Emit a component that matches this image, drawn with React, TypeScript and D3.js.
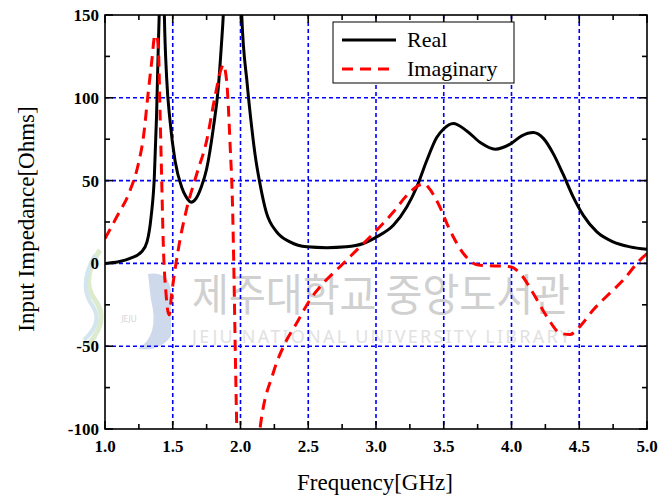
import React from "react";
import * as d3 from "d3";

const realFreq = [1.0, 1.1, 1.185, 1.27, 1.31, 1.34, 1.364, 1.38, 1.394, 1.4, 1.419, 1.438, 1.455, 1.48, 1.517, 1.566, 1.6, 1.635, 1.67, 1.71, 1.75, 1.8, 1.836, 1.86, 1.873, 1.94, 2.009, 2.05, 2.083, 2.107, 2.144, 2.19, 2.267, 2.365, 2.49, 2.636, 2.78, 2.906, 3.005, 3.128, 3.227, 3.3, 3.374, 3.448, 3.497, 3.57, 3.67, 3.77, 3.88, 3.99, 4.075, 4.16, 4.235, 4.31, 4.38, 4.456, 4.53, 4.63, 4.75, 4.875, 5.0];
const realVals = [0, 1, 3, 7, 13, 28, 52, 88, 133, 150, 260, 150, 112, 86, 62, 46, 40, 37, 39, 46, 57, 82, 106, 133, 150, 400, 150, 108, 82, 66, 48, 31, 19, 13, 10, 9.5, 10, 12, 16, 23, 34, 46, 62, 76, 81, 84.5, 80, 73, 69, 72, 77, 79, 75.5, 66, 54, 40, 29, 19, 13, 10, 8.5];

const imagFreqA = [1.0, 1.086, 1.185, 1.246, 1.283, 1.32, 1.345, 1.369, 1.385, 1.394, 1.406, 1.418, 1.43, 1.45, 1.467, 1.475, 1.49, 1.54, 1.6, 1.677, 1.75, 1.81, 1.86, 1.872, 1.898, 1.923, 1.942, 1.952, 1.96, 1.97, 1.975];
const imagValsA = [15, 28, 44, 60, 76, 104, 122, 138, 136, 130, 92, 52, 12, -18, -30, -31, -20, 8, 32, 54, 74, 100, 118, 120, 110, 72, 32, -8, -46, -90, -110];

const imagFreqB = [2.13, 2.144, 2.242, 2.33, 2.415, 2.513, 2.61, 2.734, 2.857, 2.98, 3.128, 3.227, 3.325, 3.36, 3.386, 3.46, 3.546, 3.645, 3.755, 3.878, 3.99, 4.063, 4.16, 4.26, 4.358, 4.43, 4.506, 4.604, 4.7, 4.825, 4.948, 5.0];
const imagValsB = [-110, -100, -66, -48, -36, -22, -12, -2, 8, 18, 31, 41, 47.5, 48, 46, 36, 20, 6, -1, -1.5, -2, -6, -18, -32, -42, -43, -38, -28, -20, -10, 2, 6];

const xTicks = [1.0, 1.5, 2.0, 2.5, 3.0, 3.5, 4.0, 4.5, 5.0];
const xTickLabels = ["1.0", "1.5", "2.0", "2.5", "3.0", "3.5", "4.0", "4.5", "5.0"];
const yTicks = [-100, -50, 0, 50, 100, 150];
const yTickLabels = ["-100", "-50", "0", "50", "100", "150"];
const xMinor = [1.25, 1.75, 2.25, 2.75, 3.25, 3.75, 4.25, 4.75];
const yMinor = [-75, -25, 25, 75, 125];
const legendLabels = ["Real", "Imaginary"];

const W = 660, H = 501;
const L = 105, R = 647, T = 15, B = 429;

export default function App() {
  const x = d3.scaleLinear().domain([1, 5]).range([L, R]);
  const y = d3.scaleLinear().domain([-100, 150]).range([B, T]);
  const line = d3.line<[number, number]>().x(d => x(d[0])).y(d => y(d[1])).curve(d3.curveMonotoneX);
  const realPath = line(realFreq.map((f, i) => [f, realVals[i]]) as [number, number][]) || "";
  const imagA = line(imagFreqA.map((f, i) => [f, imagValsA[i]]) as [number, number][]) || "";
  const imagB = line(imagFreqB.map((f, i) => [f, imagValsB[i]]) as [number, number][]) || "";
  const serif = "'Liberation Serif', 'Times New Roman', serif";
  const gridX = xTicks.filter(v => v > 1 && v < 5);
  const gridY = yTicks.filter(v => v > -100 && v < 150);
  return (
    <svg width={W} height={H} style={{ position: "absolute", left: 0, top: 0, background: "#fff" }}>
      <defs>
        <clipPath id="plot"><rect x={L} y={T} width={R - L} height={B - T} /></clipPath>
      </defs>
      <rect x={0} y={0} width={W} height={H} fill="#fff" />
      {/* watermark */}
      <g opacity={0.9}>
        <path d="M148,274 Q173,270 171,300 L171,336 Q160,352 138,349 Q160,335 151,300 Z" fill="#c9d6ea" />
        <path d="M100,250 Q80,280 95,300 Q110,320 88,345" fill="none" stroke="#d9e8c8" strokeWidth={5} />
        <path d="M95,255 Q78,285 92,305 Q104,322 84,340" fill="none" stroke="#cfe3ee" strokeWidth={4} />
        <text x={129} y={322} fontFamily="'Noto Sans'" fontSize={8} fill="#d0d0d0" textAnchor="middle">JEJU</text>
        <text x={381} y={311} fontFamily="'Noto Sans CJK KR'" fontSize={44} fill="#cbcbcb" textAnchor="middle" textLength={378} lengthAdjust="spacingAndGlyphs">제주대학교 중앙도서관</text>
        <text x={381} y={343} fontFamily="'Noto Sans'" fontSize={18} fill="#dedede" textAnchor="middle" textLength={378} lengthAdjust="spacing">JEJU NATIONAL UNIVERSITY  LIBRARY</text>
      </g>
      {/* grid */}
      <g stroke="#0000ff" strokeWidth={1.6} strokeDasharray="4,3">
        {gridX.map(v => <line key={"gx" + v} x1={x(v)} x2={x(v)} y1={T} y2={B} />)}
        {gridY.map(v => <line key={"gy" + v} x1={L} x2={R} y1={y(v)} y2={y(v)} />)}
      </g>
      {/* curves */}
      <g clipPath="url(#plot)" fill="none">
        <path d={realPath} stroke="#000" strokeWidth={3} />
        <path d={imagA} stroke="#ff0000" strokeWidth={3} strokeDasharray="11,7" />
        <path d={imagB} stroke="#ff0000" strokeWidth={3} strokeDasharray="11,7" />
      </g>
      {/* frame and ticks */}
      <rect x={L} y={T} width={R - L} height={B - T} fill="none" stroke="#000" strokeWidth={1.6} />
      <g stroke="#000" strokeWidth={1.6}>
        {xTicks.map(v => <g key={"xt" + v}>
          <line x1={x(v)} x2={x(v)} y1={B} y2={B - 8} />
          <line x1={x(v)} x2={x(v)} y1={T} y2={T + 8} />
        </g>)}
        {xMinor.map(v => <g key={"xm" + v}>
          <line x1={x(v)} x2={x(v)} y1={B} y2={B - 5} />
          <line x1={x(v)} x2={x(v)} y1={T} y2={T + 5} />
        </g>)}
        {yTicks.map(v => <g key={"yt" + v}>
          <line x1={L} x2={L + 8} y1={y(v)} y2={y(v)} />
          <line x1={R} x2={R - 8} y1={y(v)} y2={y(v)} />
        </g>)}
        {yMinor.map(v => <g key={"ym" + v}>
          <line x1={L} x2={L + 5} y1={y(v)} y2={y(v)} />
          <line x1={R} x2={R - 5} y1={y(v)} y2={y(v)} />
        </g>)}
      </g>
      <g fontFamily={serif} fontWeight="bold" fontSize={17} fill="#000">
        {xTicks.map((v, i) => <text key={"xl" + v} x={x(v)} y={452} textAnchor="middle">{xTickLabels[i]}</text>)}
        {yTicks.map((v, i) => <text key={"yl" + v} x={99} y={y(v) + 6} textAnchor="end">{yTickLabels[i]}</text>)}
      </g>
      <text x={375} y={490} textAnchor="middle" fontFamily={serif} fontSize={23}>Frequency[GHz]</text>
      <text transform="translate(34,219) rotate(-90)" textAnchor="middle" fontFamily={serif} fontSize={23}>Input Impedance[Ohms]</text>
      {/* legend */}
      <rect x={333} y={22} width={181} height={61} fill="#fff" stroke="#000" strokeWidth={1} />
      <line x1={342} x2={396} y1={40} y2={40} stroke="#000" strokeWidth={3} />
      <line x1={342} x2={396} y1={69} y2={69} stroke="#ff0000" strokeWidth={3} strokeDasharray="11,7" />
      <text x={407} y={47} fontFamily={serif} fontSize={22}>{legendLabels[0]}</text>
      <text x={407} y={76} fontFamily={serif} fontSize={22}>{legendLabels[1]}</text>
    </svg>
  );
}
